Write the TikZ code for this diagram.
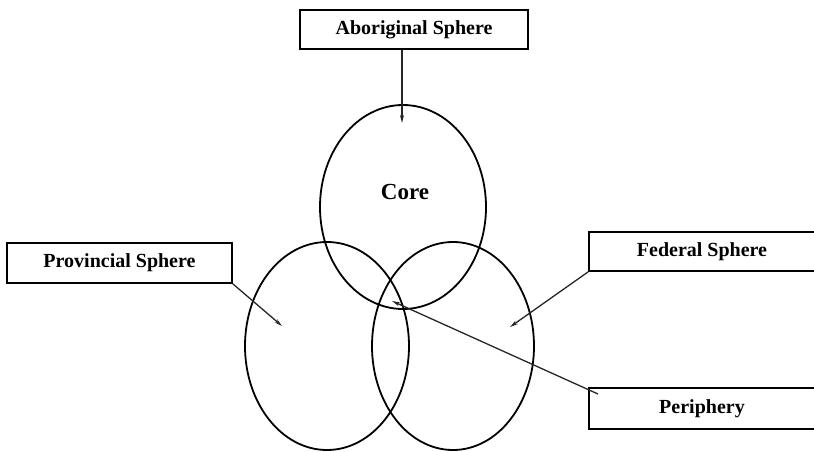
\documentclass[tikz,border=0pt]{standalone}
\usepackage{fontspec}
\setmainfont{Liberation Serif}
\usetikzlibrary{arrows.meta}
\begin{document}
\begin{tikzpicture}[x=1pt,y=-1pt,
  labelbox/.style={draw=black,line width=1.8pt,inner sep=0pt,font=\fontsize{20}{24}\selectfont\bfseries},
  sphere/.style={draw=black,line width=1.8pt,ellipse},
  pointer/.style={draw=black!85,line width=1.3pt,-{Stealth[length=8pt,width=4pt]}}]
\useasboundingbox (0,0) rectangle (814,452);
% ellipses
\draw[line width=1.8pt] (403,207) ellipse [x radius=83, y radius=102];
\draw[line width=1.8pt] (327,346) ellipse [x radius=82, y radius=104];
\draw[line width=1.8pt] (453,346) ellipse [x radius=81, y radius=104];
\node[font=\fontsize{23}{27}\selectfont\bfseries] (core) at (405,192) {Core};
% boxes
\node[labelbox,minimum width=228,minimum height=39] (abo) at (414,29.5) {Aboriginal Sphere};
\node[labelbox,minimum width=225,minimum height=40] (prov) at (119.5,263) {Provincial Sphere};
\node[labelbox,minimum width=226,minimum height=39] (fed) at (702,251.5) {Federal Sphere};
\node[labelbox,minimum width=226,minimum height=41] (peri) at (702,408.5) {Periphery};
% pointer ends
\coordinate (abotip) at (402,123);
\coordinate (provtip) at (282,326);
\coordinate (fedtip) at (510,327);
\coordinate (peritip) at (392,301);
\coordinate (peristart) at (598,394);
\draw[pointer] (abo.south -| abotip) -- (abotip);
\draw[pointer] (prov.south east) -- (provtip);
\draw[pointer] (fed.south west) -- (fedtip);
\draw[pointer] (peristart) -- (peritip);
\end{tikzpicture}
\end{document}
